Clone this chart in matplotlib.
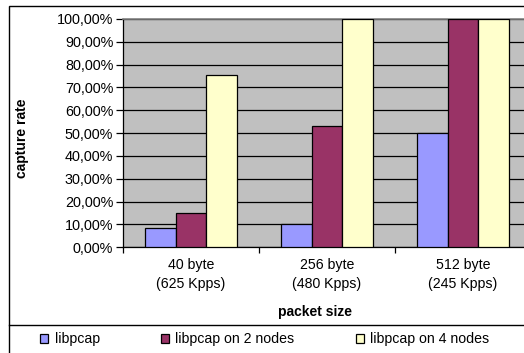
import numpy as np
import matplotlib.pyplot as plt
from matplotlib.patches import Rectangle
from matplotlib.lines import Line2D

plt.rcParams['font.family'] = ['Liberation Sans', 'DejaVu Sans']

categories = ['40 byte\n(625 Kpps)', '256 byte\n(480 Kpps)', '512 byte\n(245 Kpps)']
series = ['libpcap', 'libpcap on 2 nodes', 'libpcap on 4 nodes']
libpcap = [8.3, 10.2, 50.0]
libpcap_2 = [15.0, 53.3, 100.0]
libpcap_4 = [75.5, 100.0, 100.0]
colors = ['#9999FF', '#993366', '#FFFFCC']

W, H = 524, 353
fig = plt.figure(figsize=(W / 100, H / 100), dpi=100)

# plot area in pixels: left 123, right 531 (runs past the edge), top 19, bottom 247
x0, x1, y0, y1 = 123, 531, 19, 247.3
ax = fig.add_axes([x0 / W, 1 - y1 / H, (x1 - x0) / W, (y1 - y0) / H])
ax.set_facecolor('#C0C0C0')

x = np.arange(len(categories))
bw = 0.225
handles = []
for i, (vals, c) in enumerate(zip([libpcap, libpcap_2, libpcap_4], colors)):
    b = ax.bar(x + (i - 1) * bw, vals, bw, color=c, edgecolor='black',
               linewidth=0.9, zorder=3, label=series[i])
    handles.append(b)

ax.set_xlim(-0.5, len(categories) - 0.5)
ax.set_ylim(0, 100)
ax.set_yticks(np.arange(0, 101, 10))
ax.set_yticklabels(['{:.2f}%'.format(v).replace('.', ',') for v in range(0, 101, 10)],
                   fontsize=10.4)
ax.yaxis.grid(True, color='black', linewidth=0.9, zorder=1)
ax.tick_params(axis='y', direction='out', length=5, width=0.9, pad=2)

ax.set_xticks(x)
ax.set_xticklabels(categories, fontsize=10.2, linespacing=1.45)
ax.set_xticks(np.arange(-0.5, len(categories), 1.0), minor=True)
ax.tick_params(axis='x', which='major', length=0, pad=8)
ax.tick_params(axis='x', which='minor', direction='out', length=4, width=0.9)

for s in ['left', 'bottom']:
    ax.spines[s].set_linewidth(0.9)
ax.spines['top'].set_color('#808080')
ax.spines['top'].set_linewidth(1.2)
ax.spines['right'].set_visible(False)

fig.text(22 / W, 1 - 138 / H, 'capture rate', rotation=90, fontsize=10,
         fontweight='bold', ha='center', va='center')
fig.text(315 / W, 1 - 312 / H, 'packet size', fontsize=10,
         fontweight='bold', ha='center', va='center')

# chart frame and legend divider
fig.add_artist(Rectangle((9 / W, -0.05), 1.1, 1 - 6 / H + 0.05,
                         transform=fig.transFigure, fill=False,
                         edgecolor='black', linewidth=1.0))
fig.add_artist(Line2D([9 / W, 1.05], [1 - 325 / H] * 2,
                      transform=fig.transFigure, color='black', linewidth=1.0))

leg = fig.legend(handles=handles, loc='center left',
                 bbox_to_anchor=(34 / W, 1 - 339 / H), ncol=3, frameon=False,
                 fontsize=10.2, handlelength=0.6, handleheight=0.6,
                 handletextpad=0.45, columnspacing=4.3, borderaxespad=0)

fig.savefig('out.png', dpi=100)
